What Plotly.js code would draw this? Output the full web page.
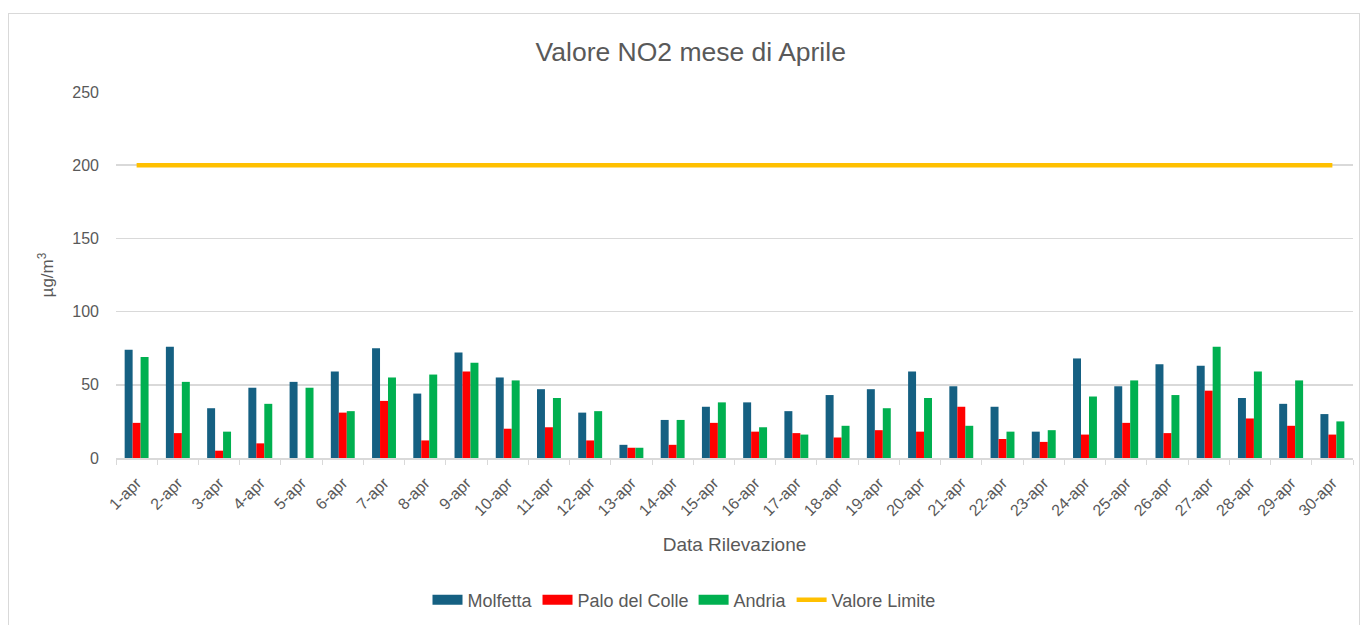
<!DOCTYPE html>
<html>
<head>
<meta charset="utf-8">
<script src="https://cdn.plot.ly/plotly-3.0.1.min.js"></script>
<style>
html,body{margin:0;padding:0;background:#fff;overflow:hidden;}
#wrap{position:absolute;left:8px;top:13px;border:1px solid #d9d9d9;background:#fff;}
#chart{width:1350px;height:620px;}
</style>
</head>
<body>
<div id="wrap"><div id="chart"></div></div>
<script>
const days = ["1-apr","2-apr","3-apr","4-apr","5-apr","6-apr","7-apr","8-apr","9-apr","10-apr",
  "11-apr","12-apr","13-apr","14-apr","15-apr","16-apr","17-apr","18-apr","19-apr","20-apr",
  "21-apr","22-apr","23-apr","24-apr","25-apr","26-apr","27-apr","28-apr","29-apr","30-apr"];
const molfetta = [74,76,34,48,52,59,75,44,72,55,47,31,9,26,35,38,32,43,47,59,49,35,18,68,49,64,63,41,37,30];
const paloDelColle = [24,17,5,10,0,31,39,12,59,20,21,12,7,9,24,18,17,14,19,18,35,13,11,16,24,17,46,27,22,16];
const andria = [69,52,18,37,48,32,55,57,65,53,41,32,7,26,38,21,16,22,34,41,22,18,19,42,53,43,76,59,53,25];
const valoreLimite = [200,200,200,200,200,200,200,200,200,200,200,200,200,200,200,200,200,200,200,200,200,200,200,200,200,200,200,200,200,200];

const seriesNames = ['Molfetta','Palo del Colle','Andria'];
const seriesColors = ['#156082','#FF0000','#00B050'];
const seriesValues = [molfetta, paloDelColle, andria];

const FONT = '"Liberation Sans", Arial, sans-serif';
const GREY = '#595959';

const traces = [];
seriesNames.forEach((n,i) => {
  traces.push({type:'bar', name:n, x:days, y:seriesValues[i], marker:{color:seriesColors[i]},
               showlegend:false, legendgroup:n});
});
// legend entries drawn as wide rectangles (like the reference)
seriesNames.forEach((n,i) => {
  traces.push({type:'scatter', mode:'lines', name:n, x:[null], y:[null], legendgroup:n,
               line:{color:seriesColors[i], width:10}, hoverinfo:'skip'});
});
traces.push({type:'scatter', mode:'lines', name:'Valore Limite', x:days, y:valoreLimite,
             line:{color:'#FFC000', width:4.5}});

const layout = {
  width:1350, height:620,
  margin:{l:107, r:6, t:78, b:176},
  paper_bgcolor:'#fff', plot_bgcolor:'#fff',
  font:{family:FONT, color:GREY, size:16},
  title:{text:'Valore NO2 mese di Aprile', font:{family:FONT, size:26.5, color:GREY},
         x:0.505, xanchor:'center', xref:'container', y:1-38/620, yref:'container', yanchor:'middle'},
  barmode:'group', bargap:0.42, bargroupgap:0,
  showlegend:true,
  legend:{orientation:'h', x:0.5, xanchor:'center', xref:'container', y:1-586/620, yref:'container',
          yanchor:'middle', font:{family:FONT, size:18, color:GREY}, traceorder:'normal'},
  xaxis:{type:'category', tickangle:-45, ticks:'outside', tickson:'boundaries', ticklen:5,
         tickcolor:'#d9d9d9', showline:true, linecolor:'#d9d9d9', linewidth:1.5,
         showgrid:false, tickfont:{family:FONT, size:16, color:GREY}, ticklabelstandoff:8,
         title:{text:'Data Rilevazione', font:{family:FONT, size:19, color:GREY}, standoff:19}},
  yaxis:{range:[0,250], dtick:50, showgrid:true, gridcolor:'#d9d9d9', gridwidth:1.5,
         zeroline:false, showline:false, ticks:'', tickfont:{family:FONT, size:16, color:GREY},
         ticklabelstandoff:16,
         title:{text:'µg/m<sup>3</sup>', font:{family:FONT, size:17, color:GREY}, standoff:14}}
};

Plotly.newPlot('chart', traces, layout, {displayModeBar:false, staticPlot:true});
</script>
</body>
</html>
